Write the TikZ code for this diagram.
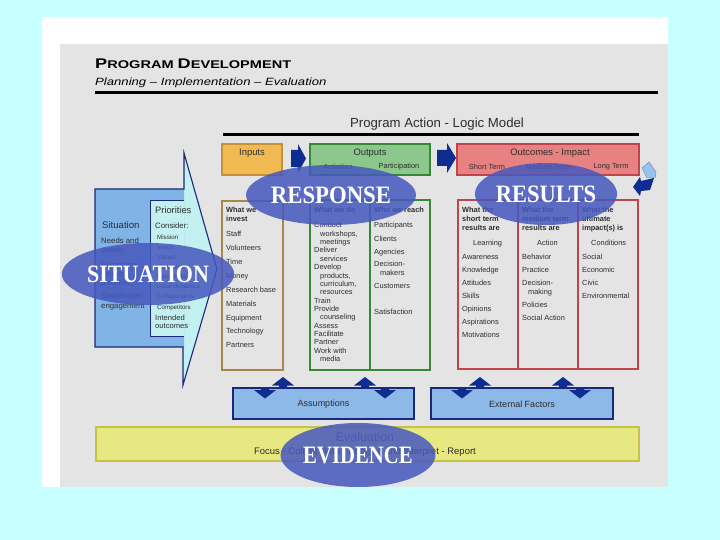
\documentclass[tikz,border=0pt]{standalone}
\usepackage{fontspec}
\setmainfont{Liberation Sans}
\newfontfamily\wordfont{Liberation Serif}
\usetikzlibrary{shapes.geometric}
\newcommand\fsz[1]{\fontsize{#1}{#1}\selectfont}
\definecolor{skyback}{RGB}{200,255,255}
\definecolor{panelgray}{RGB}{228,228,228}
\definecolor{navy}{RGB}{25,40,120}
\definecolor{sitblue}{RGB}{128,180,230}
\definecolor{pricyan}{RGB}{195,240,240}
\definecolor{infill}{RGB}{242,186,82}
\definecolor{inedge}{RGB}{195,145,55}
\definecolor{incol}{RGB}{165,135,75}
\definecolor{outfill}{RGB}{140,200,140}
\definecolor{outedge}{RGB}{55,135,55}
\definecolor{resfill}{RGB}{232,130,130}
\definecolor{resedge}{RGB}{190,70,75}
\definecolor{arrowblue}{RGB}{15,45,145}
\definecolor{boxblue}{RGB}{140,185,232}
\definecolor{evalfill}{RGB}{232,232,130}
\definecolor{evaledge}{RGB}{200,195,70}
\definecolor{blobblue}{RGB}{70,88,190}
\definecolor{loopblue}{RGB}{150,195,238}
\definecolor{textgray}{RGB}{45,45,45}
\begin{document}
\begin{tikzpicture}[x=1pt,y=-1pt,
  txt/.style={anchor=mid west, inner sep=0pt, text=textgray, font=\fsz{7.4}},
  boldtxt/.style={txt, font=\fsz{7.4}\bfseries},
  sittxt/.style={txt, font=\fsz{7.8}},
  smalltxt/.style={txt, font=\fsz{6.2}},
  hdr/.style={inner sep=0pt, text=textgray, font=\fsz{9.4}},
  subhdr/.style={inner sep=0pt, text=textgray, font=\fsz{7.4}},
  blob/.style={ellipse, fill=blobblue, fill opacity=0.85, text opacity=1, text=white, inner sep=0pt, font=\wordfont\bfseries\fsz{25}},
  bluebox/.style={fill=boxblue, draw=navy, line width=1.1}]
	% background and panels
	\fill[skyback] (0,0) rectangle (720,540);
	\fill[white] (42,17) rectangle (668,487);
	\fill[panelgray] (60,44) rectangle (668,487);
	% titles
	\node[anchor=base west, inner sep=0pt] (title) at (95,68.5) {\scalebox{1.3}[1]{\fsz{14}\bfseries P\fsz{11.2}ROGRAM \fsz{14}D\fsz{11.2}EVELOPMENT}};
	\node[anchor=base west, inner sep=0pt] (subtitle) at (95,86) {\scalebox{1.25}[1]{\fsz{10.5}\itshape Planning -- Implementation -- Evaluation}};
	\draw[line width=2.6] (95,92.3) -- (658,92.3);
	\node[anchor=base, inner sep=0pt, text=textgray] (logic) at (437,127.5) {\fsz{13.2}Program Action - Logic Model};
	\draw[line width=2.2] (223,134.5) -- (639,134.5);
	% situation arrow
	\fill[pricyan] (95,189) -- (184,189) -- (184,153) -- (217,269) -- (183,385) -- (183,347) -- (95,347) -- cycle;
	\fill[sitblue, even odd rule] (95,189) rectangle (184,347) (150,201) rectangle (184,336);
	\draw[navy, line width=1] (184,201) -- (150,201) -- (150,336) -- (184,336);
	\draw[navy, line width=1.1] (95,189) -- (184,189) -- (184,153) -- (217,269) -- (183,385) -- (183,347) -- (95,347) -- cycle;
	\node[txt, font=\fsz{9.6}] (situation) at (102,226) {Situation};
	\foreach \y/\t in {241/Needs and,250/assets,265/Symptoms,274/versus,283/problems,296/Stakeholder,306/engagement}
		\node[sittxt] (sit\y) at (101,\y) {\t};
	\node[txt, font=\fsz{9.3}] (priorities) at (155,211) {Priorities};
	\node[sittxt] (consider) at (155,226) {Consider:};
	\foreach \y/\t in {237/Mission,247/Vision,257/Values,267/Mandates,276/Resources,286/Local dynamics,296/Collaborators,307/Competitors}
		\node[smalltxt] (prio\y) at (157,\y) {\t};
	\node[txt, font=\fsz{7.6}] (intended1) at (155,318) {Intended};
	\node[txt, font=\fsz{7.6}] (intended2) at (155,326) {outcomes};
	% header row
	\draw[fill=infill, draw=inedge, line width=1.2] (222,144) rectangle (282,175);
	\node[hdr] (inputs) at (252,153) {Inputs};
	\fill[arrowblue] (291,150) -- (298,150) -- (298,144) -- (306,158.5) -- (298,173) -- (298,167) -- (291,167) -- cycle;
	\draw[fill=outfill, draw=outedge, line width=1.2] (310,144) rectangle (430,175);
	\node[hdr] (outputs) at (370,153) {Outputs};
	\node[subhdr] (activities) at (338,167) {Activities};
	\node[subhdr] (participation) at (399,167) {Participation};
	\fill[arrowblue] (437,150) -- (447,150) -- (447,143) -- (456,158) -- (447,173) -- (447,166) -- (437,166) -- cycle;
	\draw[fill=resfill, draw=resedge, line width=1.2] (457,144) rectangle (639,175);
	\node[hdr] (outcomes) at (550,153) {Outcomes - Impact};
	\node[subhdr] (shortterm) at (487,167) {Short Term};
	\node[subhdr] (mediumterm) at (548,167) {Medium Term};
	\node[subhdr] (longterm) at (611,167) {Long Term};
	% loop arrow
	\fill[loopblue, draw=navy!60, line width=.4] (642,168) -- (649,162) -- (656,172) -- (655,178) -- (647,178) -- cycle;
	\fill[arrowblue] (633,187) -- (640,177) -- (641,181) -- (654,178) -- (650,190) -- (641,191) -- (640,196) -- cycle;
	% inputs column
	\draw[incol, line width=1.2] (222,201) rectangle (283,370);
	\node[boldtxt] (invest1) at (226,210) {What we};
	\node[boldtxt] (invest2) at (226,219) {invest};
	\foreach \t [count=\i from 0] in {Staff,Volunteers,Time,Money,Research base,Materials,Equipment,Technology,Partners}
		\node[txt] (input\i) at (226,234+13.9*\i) {\t};
	% outputs columns
	\draw[outedge, line width=1.2] (310,200) rectangle (430,370) (370,200) -- (370,370);
	\node[boldtxt] (whatdo) at (314,210) {What we do};
	\node[boldtxt] (whoreach) at (374,210) {Who we reach};
	\foreach \y/\t in {225/Conduct,250/Deliver,267/Develop,301/Train,309/Provide,326/Assess,334/Facilitate,342/Partner,351/Work with}
		\node[txt] (act\y) at (314,\y) {\t};
	\foreach \y/\t in {234/{workshops,},242/meetings,259/services,276/{products,},284/{curriculum,},292/resources,317/counseling,359/media}
		\node[txt] (actb\y) at (320,\y) {\t};
	\foreach \y/\t in {225/Participants,239/Clients,252/Agencies,264/Decision-,286/Customers,312/Satisfaction}
		\node[txt] (reach\y) at (374,\y) {\t};
	\node[txt] (makers) at (380,273) {makers};
	% outcomes columns
	\draw[resedge, line width=1.2] (458,200) rectangle (638,369) (518,200) -- (518,369) (578,200) -- (578,369);
	\foreach \x/\w in {462/short term,522/medium term,582/ultimate}{
		\node[boldtxt] at (\x,210) {What the};
		\node[boldtxt] at (\x,219) {\w};
	}
	\node[boldtxt] (res1) at (462,228) {results are};
	\node[boldtxt] (res2) at (522,228) {results are};
	\node[boldtxt] (res3) at (582,228) {impact(s) is};
	\node[txt] (learning) at (473,243) {Learning};
	\node[txt] (action) at (537,243) {Action};
	\node[txt] (conditions) at (591,243) {Conditions};
	\foreach \t [count=\i from 0] in {Awareness,Knowledge,Attitudes,Skills,Opinions,Aspirations,Motivations}
		\node[txt] (short\i) at (462,257+13*\i) {\t};
	\foreach \y/\t in {257/Behavior,270/Practice,283/Decision-,305/Policies,318/Social Action}
		\node[txt] (medium\y) at (522,\y) {\t};
	\node[txt] (making) at (528,292) {making};
	\foreach \t [count=\i from 0] in {Social,Economic,Civic,Environmental}
		\node[txt] (long\i) at (582,257+13*\i) {\t};
	% assumptions and external factors
	\draw[bluebox] (233,388) rectangle (414,419);
	\draw[bluebox] (431,388) rectangle (613,419);
	\node[inner sep=0pt, text=textgray, font=\fsz{9}] (assumptions) at (323.5,404) {Assumptions};
	\node[inner sep=0pt, text=textgray, font=\fsz{9}] (external) at (522,404) {External Factors};
	\foreach \x in {283,365,480,563}
		\fill[arrowblue] (\x-11,385.5) -- (\x,377) -- (\x+11,385.5) -- (\x+4,385.5) -- (\x+4,388) -- (\x-4,388) -- (\x-4,385.5) -- cycle;
	\foreach \x in {265,385,462,580}
		\fill[arrowblue] (\x-4,387) -- (\x+4,387) -- (\x+4,390) -- (\x+11,390) -- (\x,398.5) -- (\x-11,390) -- (\x-4,390) -- cycle;
	% evaluation bar
	\draw[fill=evalfill, draw=evaledge, line width=1.5] (96,427) rectangle (639,461);
	\node[inner sep=0pt, text=black!60, font=\fsz{12.5}] (evaluation) at (365,437) {Evaluation};
	\node[inner sep=0pt, text=textgray, font=\fsz{9.5}] (focus) at (365,452) {Focus - Collect Data - Analyze and Interpret - Report};
	% labels on top
	\node[blob, minimum width=137pt, minimum height=62pt] (blobsit) at (148,274) {\scalebox{0.88}[1]{SITUATION}};
	\node[blob, minimum width=138pt, minimum height=60pt] (blobresp) at (331,195) {\scalebox{0.91}[1]{RESPONSE}};
	\node[blob, minimum width=142pt, minimum height=62pt] (blobres) at (546,194) {\scalebox{0.9}[1]{RESULTS}};
	\node[blob, minimum width=138pt, minimum height=64pt] (blobevid) at (358,455) {\scalebox{0.83}[1]{EVIDENCE}};
\end{tikzpicture}
\end{document}
